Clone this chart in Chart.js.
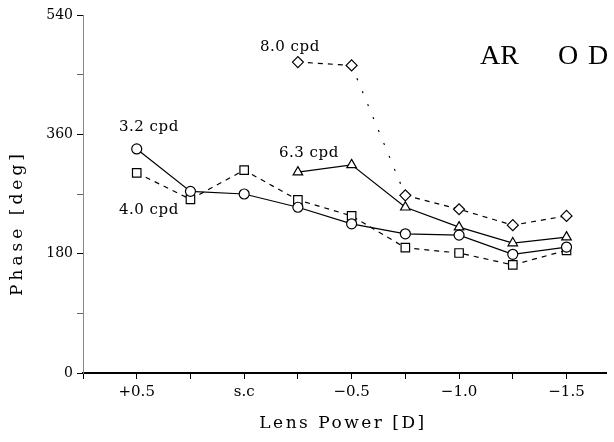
<!DOCTYPE html>
<html>
<head>
<meta charset="utf-8">
<script src="https://cdn.jsdelivr.net/npm/chart.js@4"></script>
<style>
  html, body { margin: 0; padding: 0; background: #fff; }
  #wrap { width: 614px; height: 442px; }
</style>
</head>
<body>
<div id="wrap"><canvas id="phaseChart"></canvas></div>
<script>
// Lens powers (every other one is labelled on the axis)
const lensPowers = ['+0.5', '', 's.c', '', '\u22120.5', '', '\u22121.0', '', '\u22121.5'];
const yTicks = [0, 180, 360, 540];

// Phase in degrees for each spatial frequency
const phase32 = [338, 274, 270, 250, 225, 210, 208, 179, 190];
const phase40 = [302, 262, 306, 261, 237, 189, 181, 163, 185];
const phase63 = [null, null, null, 303, 314, 250, 220, 196, 205];
const phase80 = [null, null, null, 469, 464, 268, 247, 223, 237];

const serif = '"DejaVu Serif", serif';

function toPoints(values) {
  return values.map((v, i) => ({ x: i, y: v }));
}

const markerRadius = { circle: 5, rect: 6, triangle: 5.5, rectRot: 5.5 };

function series(label, values, style, dashed) {
  return {
    label: label,
    data: toPoints(values),
    borderColor: '#000',
    borderWidth: 1.2,
    borderDash: dashed ? [5, 5] : [],
    pointStyle: style,
    pointRadius: markerRadius[style],
    pointBackgroundColor: '#fff',
    pointBorderColor: '#000',
    pointBorderWidth: 1.2,
    spanGaps: false,
    fill: false,
    tension: 0
  };
}

// Text labels and axis titles drawn straight on the canvas
const annotations = {
  id: 'annotations',
  afterDraw(chart) {
    const ctx = chart.ctx;
    ctx.save();
    ctx.fillStyle = '#000';
    ctx.textBaseline = 'middle';
    ctx.textAlign = 'left';
    ctx.font = '15px ' + serif;
    ctx.letterSpacing = '0.5px';
    ctx.fillText('3.2 cpd', 119, 127);
    ctx.fillText('4.0 cpd', 119, 210);
    ctx.fillText('6.3 cpd', 279, 153);
    ctx.fillText('8.0 cpd', 260, 47);

    ctx.font = '28px "Liberation Serif", serif';
    ctx.letterSpacing = '0px';
    ctx.fillText('AR', 480, 57);
    ctx.fillText('O', 558, 57);
    ctx.fillText('D', 588, 57);

    ctx.font = '17px ' + serif;
    ctx.letterSpacing = '2.5px';
    ctx.textAlign = 'center';
    ctx.fillText('Lens Power [D]', 343, 424);

    ctx.translate(18, 223);
    ctx.rotate(-Math.PI / 2);
    ctx.letterSpacing = '4px';
    ctx.fillText('Phase [deg]', 0, 0);
    ctx.restore();
  }
};

const ctx = document.getElementById('phaseChart').getContext('2d');
const phaseChart = new Chart(ctx, {
  type: 'line',
  data: {
    datasets: [
      series('3.2 cpd', phase32, 'circle', false),
      series('4.0 cpd', phase40, 'rect', true),
      series('6.3 cpd', phase63, 'triangle', false),
      series('8.0 cpd', phase80, 'rectRot', true)
    ]
  },
  options: {
    responsive: true,
    maintainAspectRatio: false,
    animation: false,
    layout: { padding: { top: 15, right: 0, left: 0, bottom: 0 } },
    plugins: {
      legend: { display: false },
      tooltip: { enabled: false }
    },
    datasets: {
      line: {
        segment: {
          // the steep drop of the 8.0 cpd curve is only sparsely dotted
          borderDash: c => (c.datasetIndex === 3 && c.p0DataIndex === 4) ? [2, 12] : undefined
        }
      }
    },
    scales: {
      x: {
        type: 'linear',
        min: -1,
        max: 8.75,
        afterBuildTicks: axis => {
          axis.ticks = [-1, 0, 1, 2, 3, 4, 5, 6, 7, 8].map(v => ({ value: v }));
        },
        afterFit: axis => { axis.height = 69; },
        ticks: {
          autoSkip: false,
          maxRotation: 0,
          padding: 4,
          color: '#000',
          font: { family: serif, size: 15 },
          callback: v => (v >= 0 ? lensPowers[v] : '')
        },
        grid: {
          drawOnChartArea: false,
          drawTicks: true,
          tickLength: 6,
          tickColor: '#000',
          tickWidth: 1
        },
        border: { color: '#000', width: 2 }
      },
      y: {
        min: 0,
        max: 540,
        afterBuildTicks: axis => {
          axis.ticks = [0, 90, 180, 270, 360, 450, 540].map(v => ({ value: v }));
        },
        afterFit: axis => { axis.width = 83; },
        ticks: {
          padding: 4,
          color: '#000',
          font: { family: serif, size: 14 },
          callback: v => (yTicks.includes(v) ? String(v) : '')
        },
        grid: {
          drawOnChartArea: false,
          drawTicks: true,
          tickLength: 6,
          tickColor: c => (c.tick && yTicks.includes(c.tick.value) ? '#000' : '#666'),
          tickWidth: 1
        },
        border: { color: '#888', width: 1, dash: [2, 2] }
      }
    }
  },
  plugins: [annotations]
});
</script>
</body>
</html>
